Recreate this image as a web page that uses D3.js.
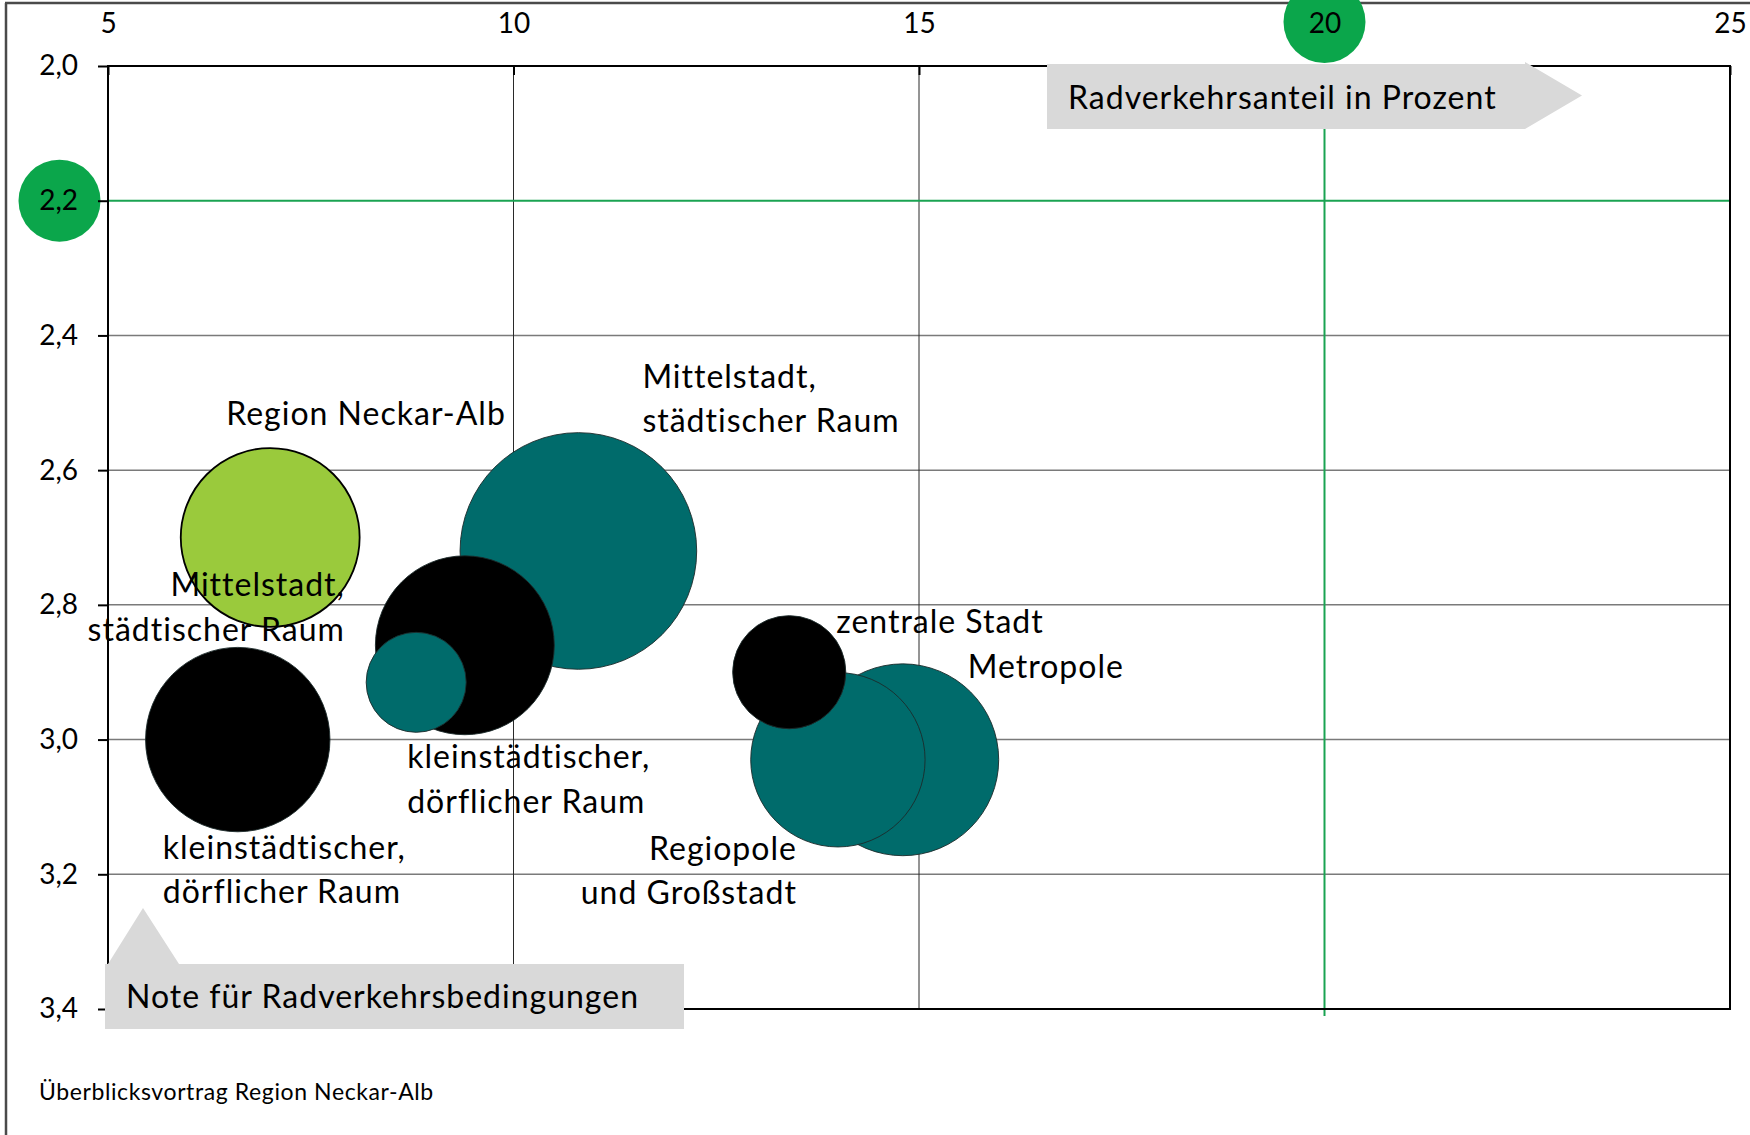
<!DOCTYPE html>
<html>
<head>
<meta charset="utf-8">
<script src="https://cdn.jsdelivr.net/npm/d3@7"></script>
<style>
  body { margin: 0; background: #fff; }
  text { font-family: Lato, "Open Sans", sans-serif; fill: #000; }
</style>
</head>
<body>
<svg id="chart" width="1750" height="1135"></svg>
<script>
// Raumtypen (RegioStaR) – Stadtregionen, ländliche Regionen und die Region Neckar-Alb
const raumtyp = [
  "Metropole",
  "Regiopole und Großstadt",
  "Mittelstadt, städtischer Raum",
  "kleinstädtischer, dörflicher Raum",
  "zentrale Stadt",
  "Mittelstadt, städtischer Raum",
  "kleinstädtischer, dörflicher Raum",
  "Region Neckar-Alb"
];
const regionstyp = [
  "Stadtregion", "Stadtregion", "Stadtregion", "Stadtregion",
  "ländliche Region", "ländliche Region", "ländliche Region",
  "Region Neckar-Alb"
];
// Radverkehrsanteil in Prozent (x)
const radverkehrsanteil = [14.8, 14.0, 10.8, 8.8, 13.4, 9.4, 6.6, 7.0];
// Note für Radverkehrsbedingungen (y, Schulnote)
const note = [3.03, 3.03, 2.72, 2.915, 2.90, 2.86, 3.00, 2.70];
// Blasengröße
const groesse = [92, 76, 140, 25, 32, 80, 85, 80];

// Achsen
const xTicks = [5, 10, 15, 20, 25];
const yTicks = [2.0, 2.2, 2.4, 2.6, 2.8, 3.0, 3.2, 3.4];
const zielNote = 2.2;      // Zielwert Note
const zielAnteil = 20;     // Zielwert Radverkehrsanteil

// Beschriftungen der Blasen (Zeilen) und ihre Lage relativ zur Blasenmitte
const beschriftung = [
  ["Metropole"],
  ["Regiopole", "und Großstadt"],
  ["Mittelstadt,", "städtischer Raum"],
  ["kleinstädtischer,", "dörflicher Raum"],
  ["zentrale Stadt"],
  ["Mittelstadt,", "städtischer Raum"],
  ["kleinstädtischer,", "dörflicher Raum"],
  ["Region Neckar-Alb"]
];
const labelLayout = [
  { dx: 65,   dy: -82,  anchor: "start" },
  { dx: -41,  dy: 100,  anchor: "end" },
  { dx: 64,   dy: -163, anchor: "start" },
  { dx: -9,   dy: 86,   anchor: "start" },
  { dx: 47,   dy: -39,  anchor: "start" },
  { dx: -120, dy: -49,  anchor: "end" },
  { dx: -75,  dy: 119,  anchor: "start" },
  { dx: -44,  dy: -113, anchor: "start" }
];

const farbe = {
  "Stadtregion": "#006b6b",
  "ländliche Region": "#000000",
  "Region Neckar-Alb": "#9aca3c"
};
const zielGruen = "#0ba64b";

const svg = d3.select("#chart");
const W = 1750, H = 1135;
const plot = { left: 108, right: 1730, top: 66, bottom: 1009 };
const labelFont = { size: 32, spacing: 1 };

const x = d3.scaleLinear().domain([5, 25]).range([plot.left, plot.right]);
const y = d3.scaleLinear().domain([2.0, 3.4]).range([plot.top, plot.bottom]);
const r = d3.scaleSqrt().domain([0, 100]).range([0, 100]);
const de = d3.formatLocale({ decimal: ",", thousands: ".", grouping: [3], currency: ["", " €"] });
const fmt = de.format(".1f");

svg.append("rect").attr("width", W).attr("height", H).attr("fill", "#fff");

// Rahmen der Folie
svg.append("line").attr("x1", 5).attr("x2", W).attr("y1", 3).attr("y2", 3)
  .attr("stroke", "#4a4a4a").attr("stroke-width", 2.5);
svg.append("line").attr("x1", 6).attr("x2", 6).attr("y1", 3).attr("y2", H)
  .attr("stroke", "#4a4a4a").attr("stroke-width", 2.5);

// Zielmarken (grüne Kreise hinter den Achsenbeschriftungen)
svg.append("circle").attr("cx", 59.5).attr("cy", y(zielNote)).attr("r", 41).attr("fill", zielGruen);
svg.append("circle").attr("cx", x(zielAnteil)).attr("cy", 22).attr("r", 41).attr("fill", zielGruen);

// Gitterlinien
const grid = svg.append("g");
grid.selectAll("line.h").data(yTicks.filter(d => d > 2.0 && d < 3.4 && d !== zielNote))
  .join("line").attr("class", "h")
  .attr("x1", plot.left).attr("x2", plot.right)
  .attr("y1", d => y(d)).attr("y2", d => y(d))
  .attr("stroke", "#7a7a7a").attr("stroke-width", 1.5);
grid.selectAll("line.v").data(xTicks.filter(d => d > 5 && d < 25 && d !== zielAnteil))
  .join("line").attr("class", "v")
  .attr("x1", d => x(d)).attr("x2", d => x(d))
  .attr("y1", plot.top).attr("y2", plot.bottom)
  .attr("stroke", "#2a2a2a").attr("stroke-width", 1);

// Ziellinien
svg.append("line").attr("x1", plot.left).attr("x2", plot.right)
  .attr("y1", y(zielNote)).attr("y2", y(zielNote))
  .attr("stroke", "#1aa352").attr("stroke-width", 2);
svg.append("line").attr("x1", x(zielAnteil)).attr("x2", x(zielAnteil))
  .attr("y1", plot.top).attr("y2", plot.bottom + 7)
  .attr("stroke", "#1aa352").attr("stroke-width", 2);

// Zeichenfläche
svg.append("rect").attr("x", plot.left).attr("y", plot.top)
  .attr("width", plot.right - plot.left).attr("height", plot.bottom - plot.top)
  .attr("fill", "none").attr("stroke", "#000").attr("stroke-width", 2);

// Achsen
const xAxis = svg.append("g").attr("transform", `translate(0,${plot.top})`)
  .call(d3.axisTop(x).tickValues(xTicks).tickSizeInner(-9).tickSizeOuter(0).tickPadding(33).tickFormat(d3.format("d")));
const yAxis = svg.append("g").attr("transform", `translate(${plot.left},0)`)
  .call(d3.axisLeft(y).tickValues(yTicks).tickSize(10).tickPadding(20).tickFormat(fmt));
[xAxis, yAxis].forEach(a => {
  a.select(".domain").remove();
  a.selectAll(".tick line").attr("stroke", "#000").attr("stroke-width", 2);
  a.selectAll(".tick text").attr("font-size", 28).attr("font-family", "Lato, sans-serif").attr("fill", "#000");
});

// Blasen – größere zuerst, damit kleinere obenauf liegen
const punkte = raumtyp.map((name, i) => ({
  name, typ: regionstyp[i], xv: radverkehrsanteil[i], yv: note[i], size: groesse[i],
  zeilen: beschriftung[i], lage: labelLayout[i]
}));
const sortiert = punkte.slice().sort((a, b) => b.size - a.size);
svg.append("g").selectAll("circle").data(sortiert).join("circle")
  .attr("cx", d => x(d.xv)).attr("cy", d => y(d.yv)).attr("r", d => r(d.size))
  .attr("fill", d => farbe[d.typ])
  .attr("stroke", d => d.typ === "Region Neckar-Alb" ? "#000" : "#1c2a2a")
  .attr("stroke-width", d => d.typ === "Region Neckar-Alb" ? 1.8 : 0.9);

// Beschriftungen
const lab = svg.append("g").selectAll("text").data(punkte).join("text")
  .attr("x", d => x(d.xv) + d.lage.dx).attr("y", d => y(d.yv) + d.lage.dy)
  .attr("text-anchor", d => d.lage.anchor)
  .attr("font-size", labelFont.size).attr("letter-spacing", labelFont.spacing);
lab.selectAll("tspan").data(d => d.zeilen.map(t => ({ t, d })))
  .join("tspan")
  .attr("x", o => x(o.d.xv) + o.d.lage.dx)
  .attr("dy", (o, j) => j === 0 ? 0 : 44.5)
  .text(o => o.t);

// Achsentitel als graue Pfeile
const pfeil = svg.append("g");
pfeil.append("path")
  .attr("d", "M1047,64 L1525,64 L1525,62 L1582,95.5 L1525,129 L1047,129 Z")
  .attr("fill", "#d9d9d9");
pfeil.append("text").attr("x", 1068).attr("y", 109)
  .attr("font-size", labelFont.size).attr("letter-spacing", labelFont.spacing)
  .text("Radverkehrsanteil in Prozent");

pfeil.append("path")
  .attr("d", "M105,964 L108,964 L143,908 L179,964 L684,964 L684,1029 L105,1029 Z")
  .attr("fill", "#d9d9d9");
pfeil.append("text").attr("x", 126).attr("y", 1008)
  .attr("font-size", labelFont.size).attr("letter-spacing", labelFont.spacing)
  .text("Note für Radverkehrsbedingungen");

// Fußzeile
svg.append("text").attr("x", 39).attr("y", 1100).attr("font-size", 23).attr("letter-spacing", 0.6)
  .text("Überblicksvortrag Region Neckar-Alb");
</script>
</body>
</html>
